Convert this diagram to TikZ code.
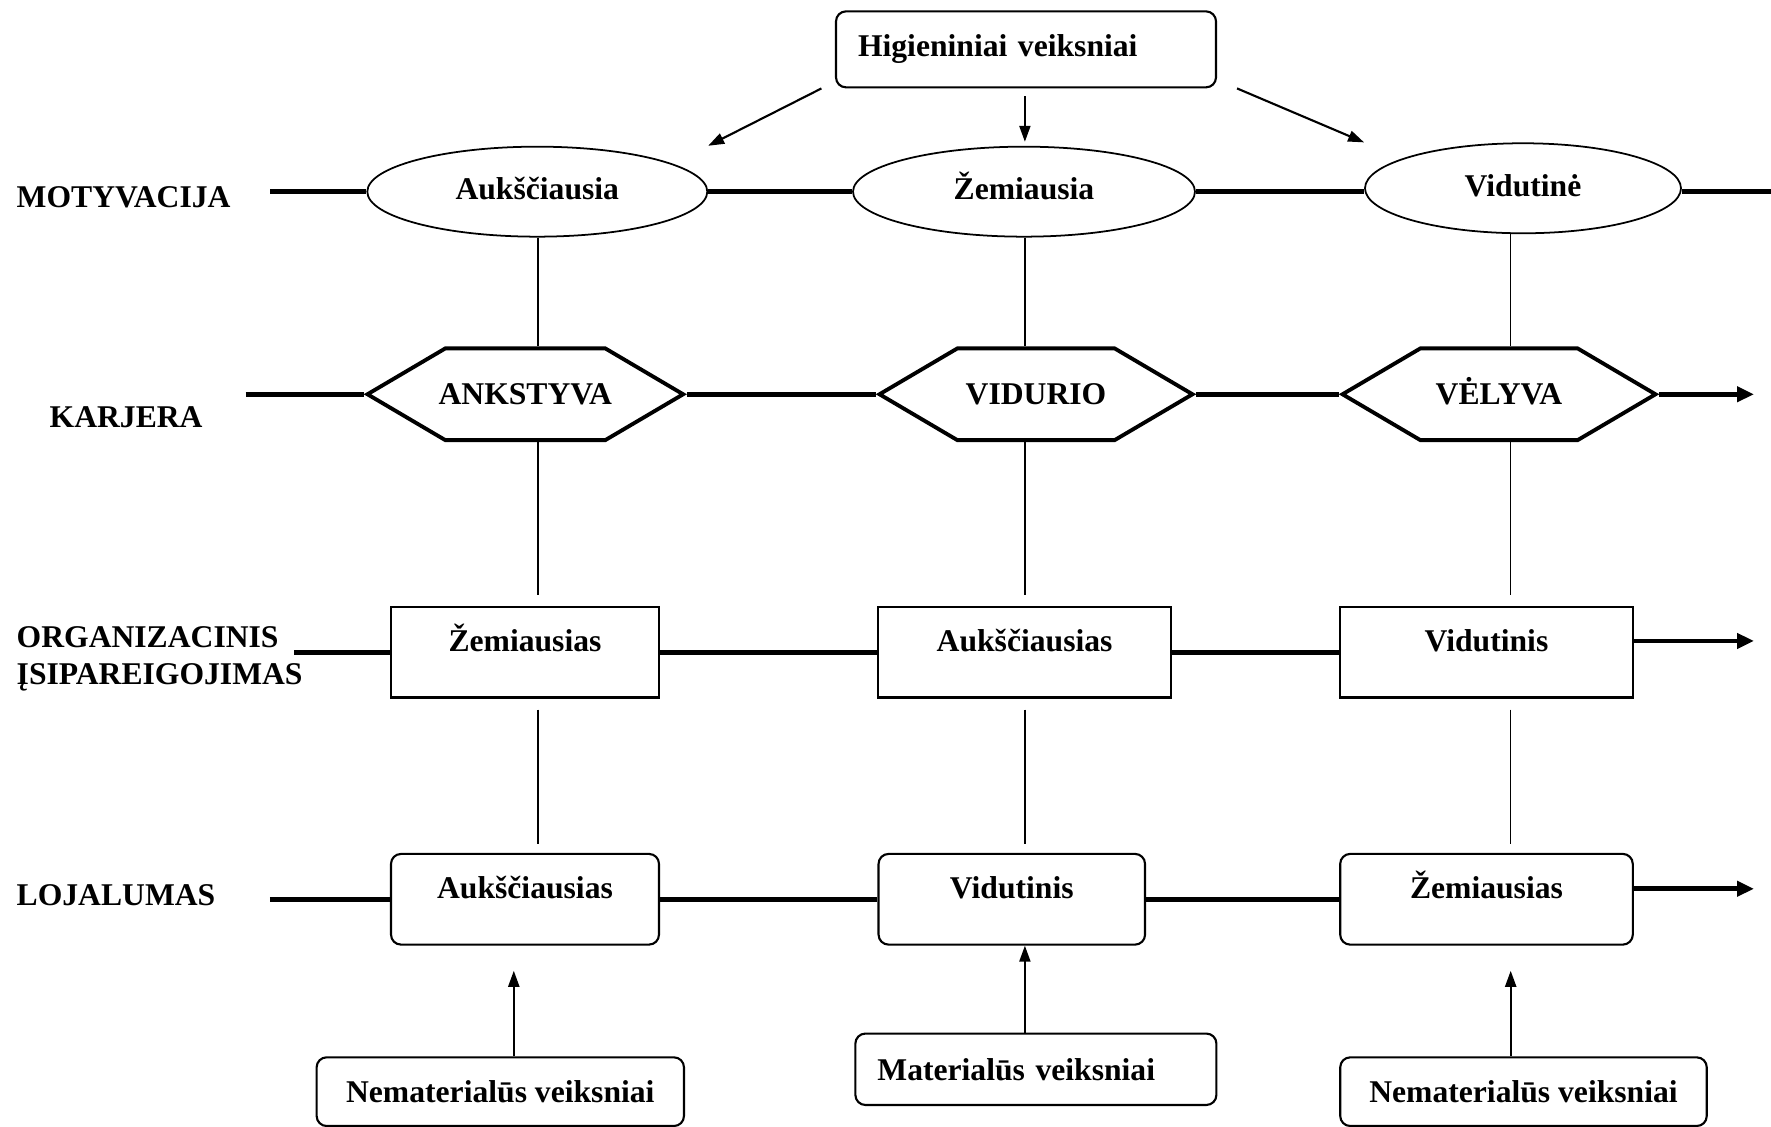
\documentclass[tikz,border=0pt]{standalone}
\usepackage{fontspec}
\setmainfont{Liberation Serif}
\usetikzlibrary{shapes.geometric,shapes.symbols,arrows.meta}

\begin{document}
\begin{tikzpicture}[
    every node/.style={font=\fontsize{9}{10.44}\selectfont\bfseries},
    mainline/.style={line width=1.35pt},
    thinline/.style={line width=0.45pt},
    arr/.style={line width=0.6pt,-{Triangle[length=0.16cm,width=0.11cm]}},
    bigarr/.style={line width=1.35pt,-{Triangle[length=0.17cm,width=0.15cm]}},
    rowlabel/.style={anchor=base west,inner sep=0pt,align=left},
    motoval/.style={ellipse,draw,line width=0.5pt,minimum width=3.4cm,minimum height=0.9cm,inner sep=0pt,text height=0.21cm,text depth=0.05cm},
    stagehex/.style={signal,signal to=east and west,signal pointer angle=61,draw,line width=1.1pt,minimum width=3.13cm,minimum height=0.917cm,inner sep=0pt,text height=0.21cm,text depth=0cm},
    orgbox/.style={rectangle,draw,line width=0.6pt,minimum height=0.907cm,text height=0.22cm,text depth=0.24cm},
    loybox/.style={orgbox,rounded corners=0.1cm},
    factorbox/.style={rectangle,draw,rounded corners=0.1cm,line width=0.6pt}
]
                % Page
                \useasboundingbox (0,0) rectangle (17.71,11.27);

                % Row labels
                \node[rowlabel] (lmot) at (0.16,9.19) {MOTYVACIJA};
                \node[rowlabel] (lkar) at (0.49,6.99) {KARJERA};
                \node[rowlabel] (lorg) at (0.16,4.423) {ORGANIZACINIS\\ĮSIPAREIGOJIMAS};
                \node[rowlabel] (lloy) at (0.16,2.21) {LOJALUMAS};

                % Columns and free ends
                \coordinate (c1) at (5.38,0);
                \coordinate (c2) at (10.249,0);
                \coordinate (c3) at (15.107,0);
                \coordinate (mstart) at (2.70,9.353);
                \coordinate (mend) at (17.71,9.353);
                \coordinate (kstart) at (2.457,7.327);
                \coordinate (kend) at (17.54,7.327);
                \coordinate (ostart) at (2.94,4.748);
                \coordinate (oend) at (17.54,4.86);
                \coordinate (lstart) at (2.698,2.277);
                \coordinate (lend) at (17.54,2.382);
                \coordinate (t1) at (5.138,1.562);
                \coordinate (t3) at (15.107,1.562);

                % Hygiene factors
                \node[factorbox,text width=3.36cm,align=left,inner xsep=0.22cm,minimum height=0.76cm] (hig) at (10.26,10.776) {Higieniniai veiksniai};

                % Motivation
                \node[motoval] (mot1) at (5.373,9.353) {Aukščiausia};
                \node[motoval,minimum width=3.42cm] (mot2) at (10.24,9.353) {Žemiausia};
                \node[motoval,minimum width=3.16cm] (mot3) at (15.23,9.387) {Vidutinė};

                % Career
                \node[stagehex,minimum width=3.157cm] (kar1) at (5.253,7.327) {\makebox[0pt]{ANKSTYVA}};
                \node[stagehex] (kar2) at (10.36,7.327) {\makebox[0pt]{VIDURIO}};
                \node[stagehex] (kar3) at (14.99,7.327) {\makebox[0pt]{VĖLYVA}};

                % Commitment
                \node[orgbox,minimum width=2.68cm] (org1) at (5.25,4.748) {Žemiausias};
                \node[orgbox,minimum width=2.926cm] (org2) at (10.246,4.748) {Aukščiausias};
                \node[orgbox,minimum width=2.926cm] (org3) at (14.865,4.748) {Vidutinis};

                % Loyalty
                \node[loybox,minimum width=2.68cm] (loy1) at (5.25,2.277) {Aukščiausias};
                \node[loybox,minimum width=2.665cm] (loy2) at (10.118,2.277) {Vidutinis};
                \node[loybox,minimum width=2.926cm] (loy3) at (14.865,2.277) {Žemiausias};

                % Other factors
                \node[factorbox,minimum width=3.673cm,minimum height=0.687cm] (nem1) at (5.003,0.353) {Nematerialūs veiksniai};
                \node[factorbox,text width=3.17cm,align=left,inner xsep=0.22cm,minimum height=0.714cm] (mat) at (10.359,0.577) {Materialūs veiksniai};
                \node[factorbox,minimum width=3.665cm,minimum height=0.687cm] (nem2) at (15.235,0.353) {Nematerialūs veiksniai};

                % Row lines
                \draw[mainline] (mstart) -- (mot1.west) (mot1.east) -- (mot2.west) (mot2.east) -- (mot2.east -| mot3.west) (mot3.east |- mend) -- (mend);
                \draw[mainline] (kstart) -- (kar1.west) (kar1.east) -- (kar2.west) (kar2.east) -- (kar3.west);
                \draw[bigarr] (kar3.east) -- (kend);
                \draw[mainline] (ostart) -- (org1.west) (org1.east) -- (org2.west) (org2.east) -- (org3.west);
                \draw[bigarr] (org3.east |- oend) -- (oend);
                \draw[mainline] (lstart) -- (loy1.west) (loy1.east) -- (loy2.west) (loy2.east) -- (loy3.west);
                \draw[bigarr] (loy3.east |- lend) -- (lend);

                % Column lines
                \draw[thinline] (c1 |- mot1.south) -- (c1 |- kar1.north);
                \draw[thinline,shorten >=0.11cm] (c1 |- kar1.south) -- (c1 |- org1.north);
                \draw[thinline,shorten <=0.11cm,shorten >=0.09cm] (c1 |- org1.south) -- (c1 |- loy1.north);
                \draw[thinline] (c2 |- mot2.south) -- (c2 |- kar2.north);
                \draw[thinline,shorten >=0.11cm] (c2 |- kar2.south) -- (c2 |- org2.north);
                \draw[thinline,shorten <=0.11cm,shorten >=0.09cm] (c2 |- org2.south) -- (c2 |- loy2.north);
                \draw[thinline] (c3 |- mot3.south) -- (c3 |- kar3.north);
                \draw[thinline,shorten >=0.11cm] (c3 |- kar3.south) -- (c3 |- org3.north);
                \draw[thinline,shorten <=0.11cm,shorten >=0.09cm] (c3 |- org3.south) -- (c3 |- loy3.north);

                % Arrows
                \draw[arr] ([xshift=-0.135cm]hig.south west) -- (mot1.east |- mot1.north);
                \draw[arr,shorten <=0.08cm,shorten >=0.04cm] (hig.south -| c2) -- (mot2.north -| c2);
                \draw[arr] ([xshift=0.2cm]hig.south east) -- (mot3.west |- mot3.north);
                \draw[arr] (nem1.north -| t1) -- (t1);
                \draw[arr] (mat.north -| c2) -- (loy2.south -| c2);
                \draw[arr] (nem2.north -| t3) -- (t3);
            \end{tikzpicture}
\end{document}
